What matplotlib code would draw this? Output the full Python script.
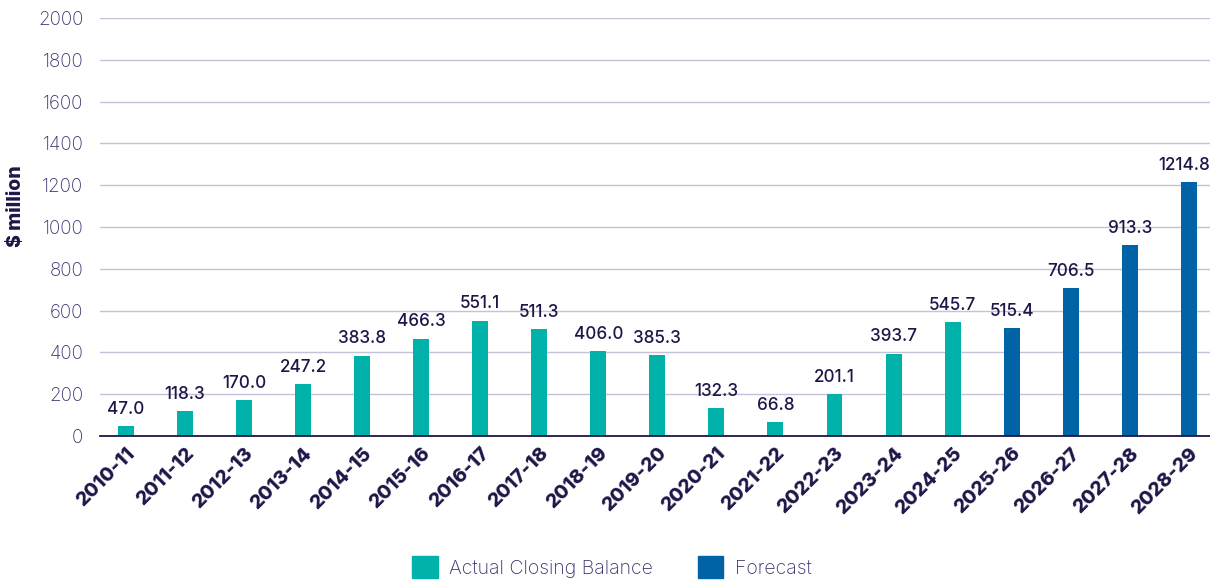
import matplotlib
matplotlib.use("Agg")
import matplotlib.pyplot as plt
from matplotlib.patches import Patch

years = ["2010-11", "2011-12", "2012-13", "2013-14", "2014-15", "2015-16", "2016-17",
         "2017-18", "2018-19", "2019-20", "2020-21", "2021-22", "2022-23", "2023-24",
         "2024-25", "2025-26", "2026-27", "2027-28", "2028-29"]
values = [47.0, 118.3, 170.0, 247.2, 383.8, 466.3, 551.1, 511.3, 406.0, 385.3,
          132.3, 66.8, 201.1, 393.7, 545.7, 515.4, 706.5, 913.3, 1214.8]
is_forecast = [False] * 15 + [True] * 4
yticks = [0, 200, 400, 600, 800, 1000, 1200, 1400, 1600, 1800, 2000]

TEAL = "#00B2A9"
BLUE = "#0063A6"
NAVY = "#201547"
TICK = "#3b3470"
GRID = "#c4c1d8"

plt.rcParams['font.family'] = ['Inter', 'DejaVu Sans']

fig = plt.figure(figsize=(12.1, 5.8), dpi=100)
ax = fig.add_axes([100/1210, 1-436/580, 1-100/1210, (436-18)/580])

x = list(range(len(years)))
colors = [BLUE if f else TEAL for f in is_forecast]
ax.bar(x, values, width=0.27, color=colors, zorder=3)

for xi, v in zip(x, values):
    dx = -3 if xi == len(x) - 1 else 0
    ax.annotate(f"{v:.1f}", (xi, v), xytext=(dx, 6), textcoords="offset points",
                ha="center", va="bottom", fontsize=12.3, color=NAVY, fontweight="medium")

ax.set_ylim(0, 2000)
ax.set_xlim(-0.44, 18.36)
ax.set_yticks(yticks)
ax.set_yticklabels([str(t) for t in yticks], fontsize=13.5, color=TICK, fontweight="light")
ax.set_xticks(x)
ax.set_xticklabels(years, rotation=45, ha="right", rotation_mode="anchor",
                   fontsize=14, fontweight="heavy", color=NAVY)
ax.tick_params(axis="both", length=0)
ax.tick_params(axis="y", pad=12)
ax.tick_params(axis="x", pad=6)
ax.grid(axis="y", color=GRID, linewidth=1, zorder=0)
for s in ["top", "right", "left"]:
    ax.spines[s].set_visible(False)
ax.spines["bottom"].set_color(NAVY)
ax.spines["bottom"].set_linewidth(1.3)
ax.spines["bottom"].set_zorder(4)

fig.text(16/1210, 1-206/580, "$ million", rotation=90, ha="center", va="center",
         fontsize=14, fontweight="heavy", color=NAVY)

handles = [Patch(color=TEAL, label="Actual Closing Balance"),
           Patch(color=BLUE, label="Forecast")]
leg = fig.legend(handles=handles, loc="center", bbox_to_anchor=(612/1210, 1-567/580),
                 ncol=2, frameon=False, handlelength=1.3, handleheight=1.3,
                 columnspacing=2.3, handletextpad=0.6, prop={'weight': 'light', 'size': 14})
for t in leg.get_texts():
    t.set_color(TICK)

fig.savefig("out.png", dpi=100)
